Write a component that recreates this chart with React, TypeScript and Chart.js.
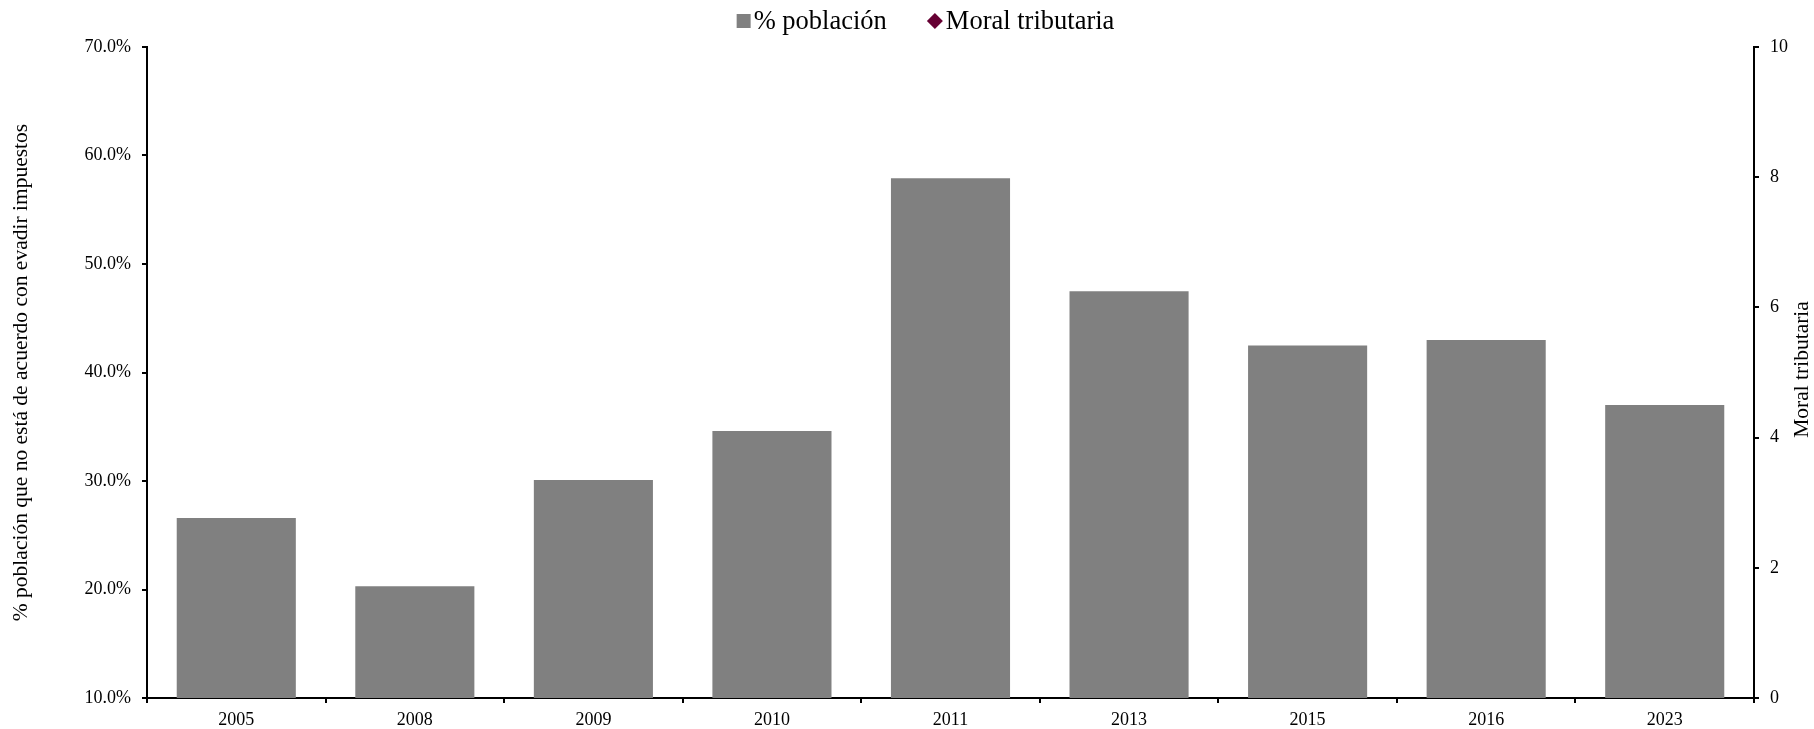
import React, { useEffect, useRef } from "react";
import { Chart, registerables } from "chart.js";

Chart.register(...registerables);

const years = ["2005", "2008", "2009", "2010", "2011", "2013", "2015", "2016", "2023"];
// share of people who disagree with tax evasion, in percent
const poblacionPct = [26.6, 20.3, 30.1, 34.6, 57.9, 47.5, 42.5, 43.0, 37.0];
// tax morale index (no observations plotted)
const moralTributaria: (number | null)[] = [null, null, null, null, null, null, null, null, null];

const leftTicks = { min: 10, max: 70, step: 10 };
const rightTicks = { min: 0, max: 10, step: 2 };

const FONT = '"Liberation Serif", "Times New Roman", serif';
const BAR_COLOR = "#808080";
const MORAL_COLOR = "#660033";

const W = 1814;
const H = 729;

// Legend drawn on top: square for bars, diamond for the index series
const topLegend = {
  id: "topLegend",
  afterDraw(chart: any) {
    const ctx = chart.ctx;
    const fontSize = 26.5;
    ctx.save();
    ctx.font = `${fontSize}px ${FONT}`;
    ctx.textBaseline = "middle";
    ctx.textAlign = "left";
    const items = chart.data.datasets.map((ds: any) => ({
      text: ds.label,
      color: ds.legendColor,
      shape: ds.legendShape,
    }));
    const gap = 3;
    const itemGap = 40;
    const markerW = (it: any) => (it.shape === "rect" ? 14 : 16);
    const widths = items.map((it: any) => markerW(it) + gap + ctx.measureText(it.text).width);
    const total = widths.reduce((a: number, b: number) => a + b, 0) + itemGap * (items.length - 1);
    const ca = chart.chartArea;
    let x = (ca.left + ca.right) / 2 - 25 - total / 2;
    const y = 21;
    items.forEach((it: any, i: number) => {
      ctx.fillStyle = it.color;
      if (it.shape === "rect") {
        ctx.fillRect(x, y - 7, 14, 14);
      } else {
        const cx = x + 8;
        const r = 8;
        ctx.beginPath();
        ctx.moveTo(cx, y - r);
        ctx.lineTo(cx + r, y);
        ctx.lineTo(cx, y + r);
        ctx.lineTo(cx - r, y);
        ctx.closePath();
        ctx.fill();
      }
      ctx.fillStyle = "#000";
      ctx.fillText(it.text, x + markerW(it) + gap, y + 1);
      x += widths[i] + itemGap;
    });
    ctx.restore();
  },
};

// Secondary-axis title, read bottom to top
const rightTitle = {
  id: "rightTitle",
  afterDraw(chart: any) {
    const ctx = chart.ctx;
    const ca = chart.chartArea;
    const scale = chart.scales.y2;
    ctx.save();
    ctx.font = `21.5px ${FONT}`;
    ctx.fillStyle = "#000";
    ctx.textAlign = "center";
    ctx.textBaseline = "middle";
    ctx.translate(scale.right - 12, (ca.top + ca.bottom) / 2 - 3);
    ctx.rotate(-Math.PI / 2);
    ctx.fillText("Moral tributaria", 0, 0);
    ctx.restore();
  },
};

export default function App() {
  const ref = useRef<HTMLCanvasElement | null>(null);

  useEffect(() => {
    if (!ref.current) return;
    const chart = new Chart(ref.current, {
      type: "bar",
      data: {
        labels: years,
        datasets: [
          {
            type: "bar",
            label: "% población",
            data: poblacionPct,
            backgroundColor: BAR_COLOR,
            borderWidth: 0,
            barPercentage: 0.667,
            categoryPercentage: 1,
            yAxisID: "y",
            legendColor: BAR_COLOR,
            legendShape: "rect",
          } as any,
          {
            type: "line",
            label: "Moral tributaria",
            data: moralTributaria,
            borderColor: MORAL_COLOR,
            backgroundColor: MORAL_COLOR,
            showLine: false,
            pointStyle: "rectRot",
            pointRadius: 7,
            yAxisID: "y2",
            legendColor: MORAL_COLOR,
            legendShape: "diamond",
          } as any,
        ],
      },
      options: {
        responsive: false,
        animation: false,
        devicePixelRatio: 1,
        layout: { padding: { top: 47, left: 0, right: 0, bottom: 0 } },
        plugins: {
          legend: { display: false },
          tooltip: { enabled: false },
        },
        scales: {
          x: {
            type: "category",
            offset: true,
            grid: {
              display: true,
              drawOnChartArea: false,
              drawTicks: true,
              offset: true,
              tickLength: 5,
              color: "#000",
              lineWidth: 2,
            },
            border: { display: true, color: "#000", width: 2 },
            ticks: {
              color: "#000",
              font: { family: FONT, size: 18 },
              padding: 6,
              maxRotation: 0,
              autoSkip: false,
            },
            afterFit(scale: any) {
              scale.height = 31;
            },
          },
          y: {
            type: "linear",
            position: "left",
            min: leftTicks.min,
            max: leftTicks.max,
            grid: {
              drawOnChartArea: false,
              drawTicks: true,
              tickLength: 5,
              color: "#000",
              lineWidth: 2,
            },
            border: { display: true, color: "#000", width: 2 },
            ticks: {
              stepSize: leftTicks.step,
              color: "#000",
              font: { family: FONT, size: 18 },
              padding: 11,
              callback: (v: any) => Number(v).toFixed(1) + "%",
            },
            title: {
              display: true,
              text: "% población que no está de acuerdo con evadir impuestos",
              color: "#000",
              font: { family: FONT, size: 21.5 },
              padding: { top: 8, bottom: 0 },
            },
            afterFit(scale: any) {
              scale.width = 147;
            },
          },
          y2: {
            type: "linear",
            position: "right",
            min: rightTicks.min,
            max: rightTicks.max,
            grid: {
              drawOnChartArea: false,
              drawTicks: true,
              tickLength: 5,
              color: "#000",
              lineWidth: 2,
            },
            border: { display: true, color: "#000", width: 2 },
            ticks: {
              stepSize: rightTicks.step,
              color: "#000",
              font: { family: FONT, size: 18 },
              padding: 11,
            },
            afterFit(scale: any) {
              scale.width = 60;
            },
          },
        },
      } as any,
      plugins: [topLegend, rightTitle],
    });
    return () => chart.destroy();
  }, []);

  return (
    <div style={{ position: "fixed", left: 0, top: 0, width: W, height: H, background: "#fff" }}>
      <canvas ref={ref} width={W} height={H} style={{ display: "block" }} />
    </div>
  );
}
